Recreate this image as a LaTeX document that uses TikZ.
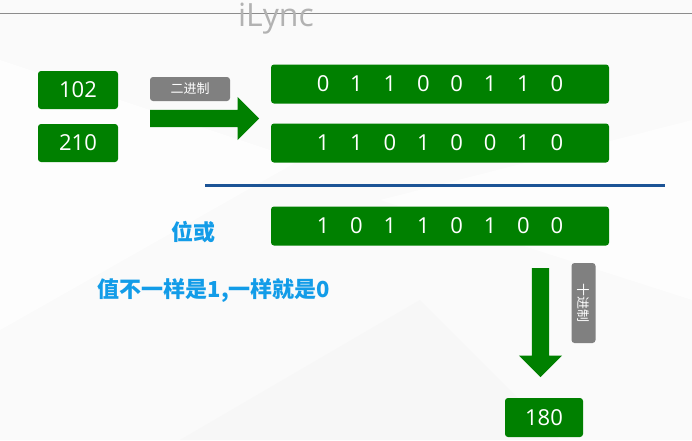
\documentclass[tikz,border=0pt]{standalone}
\usepackage{fontspec}
\setmainfont{Open Sans}
\newfontfamily\cjk{Noto Sans CJK SC}
\usetikzlibrary{positioning,shapes.arrows}
\definecolor{boxgreen}{RGB}{0,128,0}
\definecolor{taggray}{RGB}{128,128,128}
\definecolor{txtblue}{RGB}{18,156,232}
\definecolor{ruleblue}{RGB}{28,84,150}
\newcommand{\bitrow}[1]{\foreach \b in {#1}{\makebox[33.4pt]{\b}}}
\tikzset{
  numbox/.style={fill=boxgreen,rounded corners=3pt,text=white,inner sep=0pt,
    minimum width=80pt,minimum height=38pt,font=\fontsize{22}{26}\selectfont},
  bitbox/.style={numbox,minimum width=338pt,minimum height=39pt},
  tagbox/.style={fill=taggray,rounded corners=3pt,text=white,inner sep=0pt,
    minimum width=80pt,minimum height=24pt,font=\cjk\fontsize{13}{15}\selectfont},
  bluetext/.style={text=txtblue,font=\cjk\bfseries\fontsize{22}{26}\selectfont},
  fatarrow/.style={single arrow,fill=boxgreen,inner xsep=0pt,inner ysep=8.5pt,minimum width=43pt,
    single arrow head extend=13pt,single arrow head indent=0pt,minimum height=109pt,anchor=tail}
}
\begin{document}
\begin{tikzpicture}[x=1pt,y=-1pt]
  % background
  \fill[black!2] (0,0) rectangle (692,440);
  \fill[white,opacity=0.7] (0,60) -- (300,160) -- (0,330) -- cycle;
  \fill[white,opacity=0.6] (380,200) -- (692,120) -- (692,300) -- cycle;
  \fill[black!3] (180,440) -- (420,300) -- (560,440) -- cycle;
  \useasboundingbox (0,0) rectangle (692,440);
  \draw[black!45,line width=1pt] (0,13) -- (692,13);
  \node[text=black!30,font=\fontsize{32}{34}\selectfont] (logo) at (276,19) {iLync};
  % numbers
  \node[numbox] (a) at (78,90) {102};
  \node[numbox] (b) at (78,143) {210};
  \node[tagbox] (bin) at (190,89) {二进制};
  \node[fatarrow] (toright) at (150,118.5) {};
  % binary rows
  \node[bitbox] (ra) at (440,84) {\bitrow{0,1,1,0,0,1,1,0}};
  \node[bitbox] (rb) at (440,143) {\bitrow{1,1,0,1,0,0,1,0}};
  \draw[ruleblue,line width=3pt] (205,185.5) -- (665,185.5);
  \node[bitbox] (rc) at (440,226) {\bitrow{1,0,1,1,0,1,0,0}};
  \node[bluetext] (op) at (193,232) {位或};
  \node[bluetext] (rule) at (214,291) {值不一样是1,一样就是0};
  % back to decimal
  \node[fatarrow,shape border rotate=270,inner xsep=8.5pt,inner ysep=0pt] (todown) at (540.5,268) {};
  \node[tagbox,rotate=-90] (dec) at (583.5,303) {十进制};
  \node[numbox,minimum width=78pt,minimum height=39pt] (c) at (544,417.5) {180};
\end{tikzpicture}
\end{document}
